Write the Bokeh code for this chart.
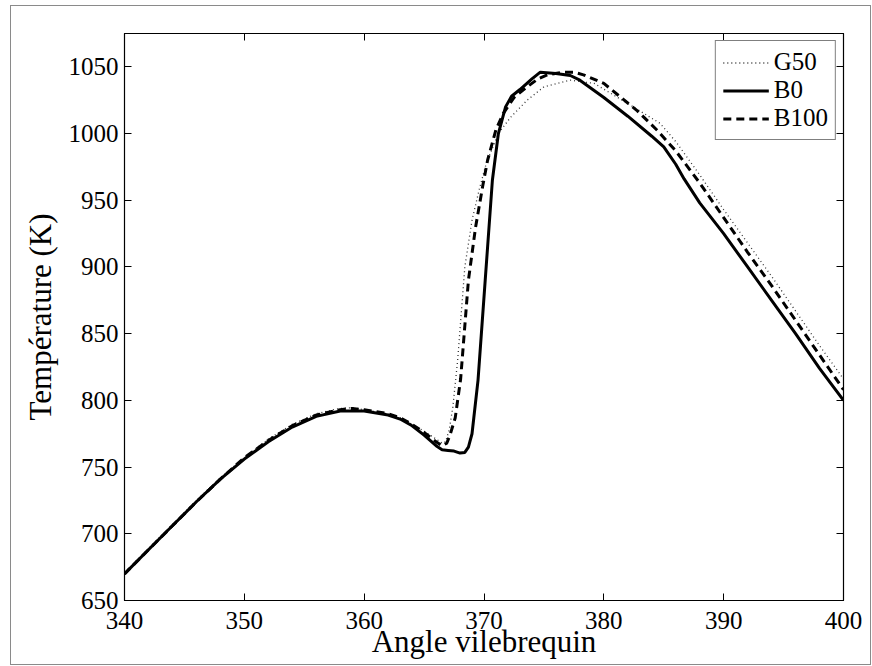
from bokeh.plotting import figure
from bokeh.models import Range1d, LinearAxis, FixedTicker, Legend, LegendItem, CustomLabelingPolicy
from bokeh.embed import file_html
from bokeh.resources import INLINE

# ---- data ----
x_ticks = [340, 350, 360, 370, 380, 390, 400]
y_ticks = [650, 700, 750, 800, 850, 900, 950, 1000, 1050]

b0_angle = [340, 342, 344, 346, 348, 350, 352, 354, 356, 358, 360, 362, 363, 364, 365, 366,
            366.5, 367, 367.5, 368, 368.4, 368.7, 369, 369.15, 369.5, 370.1, 370.7, 371.2,
            371.8, 372.3, 373, 374, 374.7, 376, 377.2, 378, 380, 382, 384, 385, 386, 386.7,
            388, 390, 392, 394, 396, 398, 400]
b0_temp = [670, 688, 706, 724, 741, 756, 769, 780, 788, 792, 792, 789, 786, 781, 774, 766,
           763, 762.5, 762, 760.5, 761, 765, 775, 787, 815, 890, 965, 1000,
           1020, 1028, 1033, 1041, 1046, 1045, 1043.5, 1040, 1027, 1013, 998, 990, 977, 966,
           948, 925, 900, 875, 850, 824, 800]

b100_angle = [340, 342, 344, 346, 348, 350, 352, 354, 356, 358, 359, 360, 362, 363, 364, 365,
              366, 366.5, 366.9, 367.2, 367.6, 368.05, 368.7, 369.3, 369.9, 370.3, 371, 371.6,
              372.5, 373.6, 374.5, 375.3, 376.6, 377.5, 378.3, 380, 382.8, 384.5, 386, 388,
              390, 392, 394, 396, 398, 400]
b100_temp = [670, 688, 706, 724, 741, 757, 770, 781, 789, 793, 794, 793, 790, 787, 782, 776,
             769, 766, 768, 775, 787, 816, 890, 930, 961, 980, 1003, 1015,
             1027, 1035, 1041, 1044, 1046, 1046, 1044, 1037.6, 1017, 1002, 987, 963,
             937, 911, 886, 860, 834, 808]

g50_angle = [340, 342, 344, 346, 348, 350, 352, 354, 356, 358, 359, 360, 362, 363, 364, 365,
             366, 366.5, 366.8, 367.1, 367.4, 367.8, 368.4, 369, 369.6, 370.2, 371.2, 372.2,
             373.6, 375, 377.2, 379.2, 382, 384.7, 386, 388, 390, 392, 394, 396, 398, 400]
g50_temp = [671, 689, 707, 725, 742, 757, 771, 782, 790, 794, 794.5, 793, 790, 787, 782, 777,
            771, 768, 769, 778, 795, 830, 900, 935, 958, 978, 1000, 1012,
            1025, 1035, 1040, 1037.6, 1022.5, 1007.6, 994, 969, 943, 918, 893, 867, 841, 816]

FONT = "Liberation Serif"
FS = "25px"
LFS = "31px"

p = figure(frame_width=719, frame_height=567, output_backend="svg", toolbar_location=None,
           x_range=Range1d(340, 400), y_range=Range1d(650, 1075),
           min_border_left=113, min_border_right=23, min_border_top=27, min_border_bottom=64,
           x_axis_label="Angle vilebrequin", y_axis_label="Température (K)")
p.styles = {"border": "1px solid #8a8a8a", "margin-left": "10px", "margin-top": "5px"}
p.grid.visible = False
p.outline_line_color = "black"
p.outline_line_width = 1.2

for ax in (p.xaxis[0], p.yaxis[0]):
    ax.major_tick_in = 7
    ax.major_tick_out = 0
    ax.minor_tick_line_color = None
    ax.axis_line_color = "black"
    ax.major_tick_line_color = "black"
    ax.major_label_text_font = FONT
    ax.major_label_text_font_size = FS
    ax.major_label_text_color = "black"
    ax.axis_label_text_font = FONT
    ax.axis_label_text_font_size = LFS
    ax.axis_label_text_font_style = "normal"
    ax.axis_label_text_color = "black"
p.xaxis[0].ticker = FixedTicker(ticks=x_ticks)
p.yaxis[0].ticker = FixedTicker(ticks=y_ticks)
p.xaxis[0].major_label_standoff = 11
p.xaxis[0].axis_label_standoff = -8
p.yaxis[0].major_label_standoff = 6
p.yaxis[0].axis_label_standoff = 8

# mirrored ticks on top and right (MATLAB box), without labels
top = LinearAxis(ticker=FixedTicker(ticks=x_ticks),
                 major_label_policy=CustomLabelingPolicy(code="for (const i of indices) indices.unset(i); return indices"))
right = LinearAxis(ticker=FixedTicker(ticks=y_ticks),
                   major_label_policy=CustomLabelingPolicy(code="for (const i of indices) indices.unset(i); return indices"))
for ax in (top, right):
    ax.major_tick_in = 7
    ax.major_tick_out = 0
    ax.minor_tick_line_color = None
    ax.major_label_standoff = 0
    ax.axis_line_color = "black"
    ax.major_tick_line_color = "black"
p.add_layout(top, "above")
p.add_layout(right, "right")

r_g50 = p.line(g50_angle, g50_temp, line_color="#333333", line_width=1.3, line_dash="1 3")
r_b0 = p.line(b0_angle, b0_temp, line_color="black", line_width=3)
r_b100 = p.line(b100_angle, b100_temp, line_color="black", line_width=3, line_dash="8 5")

legend = Legend(items=[LegendItem(label="G50", renderers=[r_g50]),
                       LegendItem(label="B0", renderers=[r_b0]),
                       LegendItem(label="B100", renderers=[r_b100])],
                location="top_right")
legend.margin = 7
legend.padding = 7
legend.spacing = 0
legend.glyph_width = 46
legend.glyph_height = 25
legend.label_height = 25
legend.label_standoff = 5
legend.label_text_font = FONT
legend.label_text_font_size = FS
legend.label_text_color = "black"
legend.border_line_color = "black"
legend.border_line_width = 1
legend.background_fill_alpha = 1
p.add_layout(legend)

open("out.html", "w").write(file_html(p, INLINE))
